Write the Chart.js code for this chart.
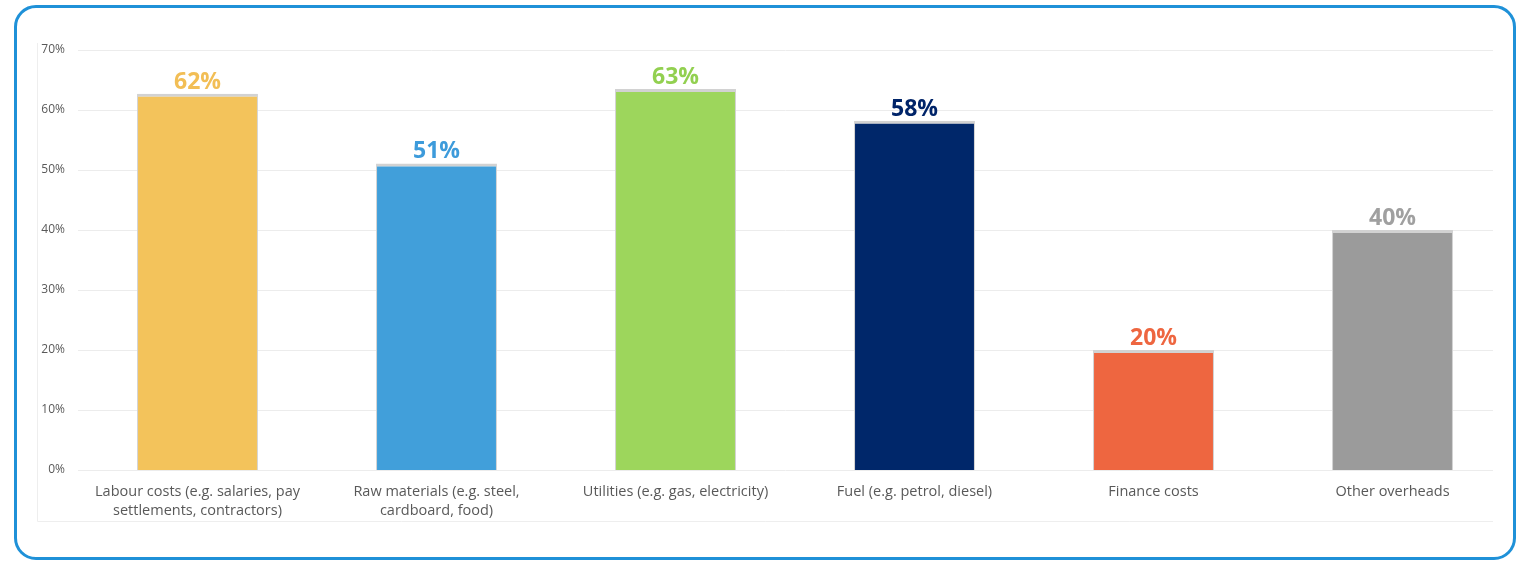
<!DOCTYPE html>
<html>
<head>
<meta charset="utf-8">
<script src="https://cdn.jsdelivr.net/npm/chart.js@4"></script>
<style>
	html, body { margin: 0; padding: 0; background: #ffffff; }
	.wrap { position: relative; width: 1520px; height: 562px; overflow: hidden; }
	.box {
		position: absolute; left: 14px; top: 5px; width: 1496px; height: 549px;
		border: 3px solid #1f91d8; border-radius: 22px;
	}
	canvas { position: absolute; left: 0; top: 0; }
</style>
</head>
<body>
<div class="wrap">
	<div class="box"></div>
	<canvas id="chart" width="1520" height="562"></canvas>
</div>
<script>
const categories = [
	["Labour costs (e.g. salaries, pay", "settlements, contractors)"],
	["Raw materials (e.g. steel,", "cardboard, food)"],
	"Utilities (e.g. gas, electricity)",
	"Fuel (e.g. petrol, diesel)",
	"Finance costs",
	"Other overheads",
];
// bar heights, labels as printed
const values = [62.7, 51.1, 63.5, 58.2, 20.0, 40.0];
const shownLabels = ["62%", "51%", "63%", "58%", "20%", "40%"];
const barColors = ["#f3c35b", "#419fda", "#9dd65c", "#00276a", "#ee6640", "#9b9b9b"];
const labelColors = ["#f2be55", "#3d9bdb", "#92d050", "#002469", "#ee6640", "#a0a0a0"];
const yTicks = [0, 10, 20, 30, 40, 50, 60, 70];

const FONT = "'Open Sans', 'Noto Sans', sans-serif";
const GRID_RIGHT = 1493;

// light gridlines + outer frame, drawn from the y scale
const gridPlugin = {
	id: "gridLines",
	beforeDatasetsDraw(chart) {
		const { ctx, chartArea, scales } = chart;
		ctx.save();
		ctx.strokeStyle = "#ececec";
		ctx.lineWidth = 1;
		yTicks.forEach((t) => {
			const y = Math.round(scales.y.getPixelForValue(t)) + 0.5;
			ctx.beginPath();
			ctx.moveTo(chartArea.left, y);
			ctx.lineTo(GRID_RIGHT, y);
			ctx.stroke();
		});
		// frame left and bottom
		ctx.strokeStyle = "#eeeeee";
		ctx.beginPath();
		ctx.moveTo(37.5, 43);
		ctx.lineTo(37.5, 521.5);
		ctx.lineTo(GRID_RIGHT, 521.5);
		ctx.stroke();
		ctx.restore();
	},
	afterDatasetsDraw(chart) {
		const { ctx } = chart;
		const meta = chart.getDatasetMeta(0);
		ctx.save();
		ctx.font = "bold 23px " + FONT;
		ctx.textAlign = "center";
		ctx.textBaseline = "alphabetic";
		meta.data.forEach((bar, i) => {
			ctx.fillStyle = labelColors[i];
			ctx.fillText(shownLabels[i], bar.x, bar.y - 5);
		});
		ctx.restore();
	},
};

const ctx = document.getElementById("chart").getContext("2d");
new Chart(ctx, {
	type: "bar",
	data: {
		labels: categories,
		datasets: [
			{
				data: values,
				backgroundColor: barColors,
				borderColor: "#d2d2d2",
				borderWidth: { top: 3, left: 1, right: 1, bottom: 0 },
				borderSkipped: "bottom",
				barPercentage: 0.506,
				categoryPercentage: 1,
			},
		],
	},
	options: {
		responsive: false,
		animation: false,
		layout: { padding: { left: 37, right: 8, top: 50, bottom: 0 } },
		plugins: {
			legend: { display: false },
			tooltip: { enabled: false },
		},
		scales: {
			x: {
				grid: { display: false, drawTicks: false },
				border: { display: false },
				ticks: {
					color: "#595959",
					font: { family: FONT, size: 14.5, lineHeight: 1.32 },
					padding: 12,
					maxRotation: 0,
					autoSkip: false,
				},
				afterFit(scale) {
					scale.height = 92;
				},
			},
			y: {
				min: 0,
				max: 70,
				grid: { display: false, drawTicks: false },
				border: { display: false },
				ticks: {
					stepSize: 10,
					color: "#595959",
					font: { family: FONT, size: 12 },
					padding: 13,
					callback: (v) => v + "%",
				},
				afterFit(scale) {
					scale.width = 41;
				},
			},
		},
	},
	plugins: [gridPlugin],
});
</script>
</body>
</html>
